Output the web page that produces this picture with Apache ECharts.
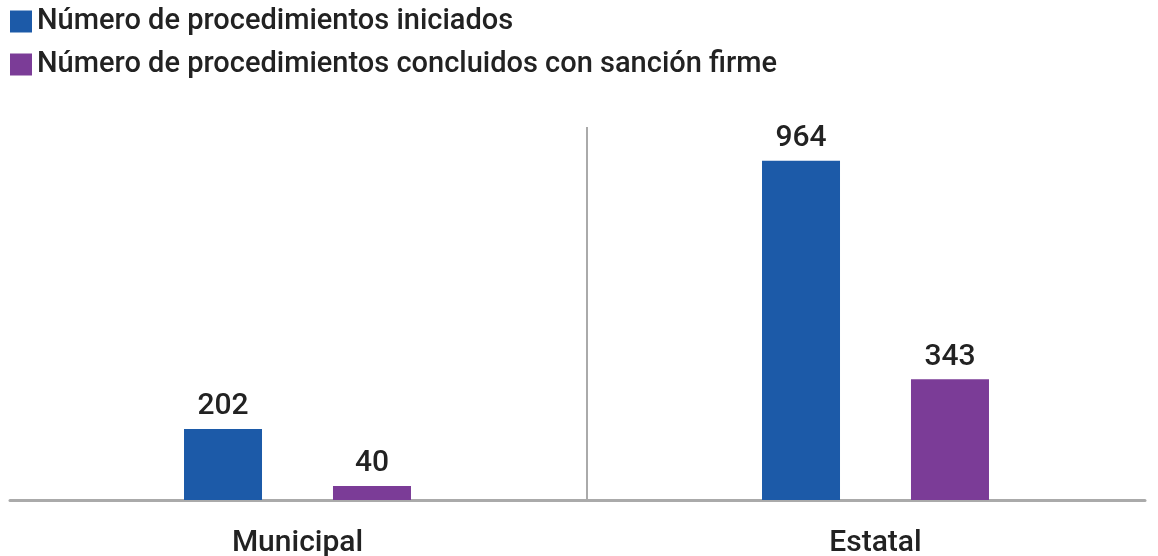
<!DOCTYPE html>
<html><head><meta charset="utf-8">
<script src="https://cdn.jsdelivr.net/npm/echarts@6/dist/echarts.min.js"></script>
<style>html,body{margin:0;padding:0;background:#fff}#c{width:1158px;height:556px}</style>
</head><body><div id="c"></div>
<script>
const categories = ['Municipal', 'Estatal'];
const seriesNames = ['Número de procedimientos iniciados', 'Número de procedimientos concluidos con sanción firme'];
const iniciados = [202, 964];
const concluidos = [40, 343];
const colors = ['#1c5aa8', '#7b3c97'];
const separatorAt = 1; // boundary between the two categories (on a 0..2 helper scale)

const chart = echarts.init(document.getElementById('c'));
const font = 'Roboto';
const labelStyle = {show: true, position: 'top', distance: 7, fontFamily: font, fontSize: 30, fontWeight: 500, color: '#222'};
chart.setOption({
  animation: false,
  legend: {
    orient: 'vertical', left: 10, top: 7, padding: 0, itemWidth: 22, itemHeight: 22, itemGap: 14,
    icon: 'rect',
    textStyle: {fontFamily: font, fontSize: 29, fontWeight: 500, color: '#222'},
    data: seriesNames
  },
  grid: [
    {left: 8.5, right: -6.5, top: 127, bottom: 56, outerBoundsMode: 'none', containLabel: false},
    {left: 10, right: 13, top: 127, bottom: 56, outerBoundsMode: 'none'}
  ],
  xAxis: [
    {type: 'category', gridIndex: 0, data: categories,
      axisLine: {show: false}, axisTick: {show: false},
      axisLabel: {fontFamily: font, fontSize: 30, fontWeight: 500, color: '#222', margin: 28},
      splitLine: {show: false}},
    {type: 'category', gridIndex: 1, data: [''],
      axisLine: {show: true, lineStyle: {color: '#aaaaaa', width: 3}},
      axisTick: {show: false}, axisLabel: {show: false}},
    {type: 'value', gridIndex: 0, min: 0, max: 2, show: false, splitLine: {show: false}}
  ],
  yAxis: [
    {type: 'value', gridIndex: 0, min: 0, max: 1060, show: false, splitLine: {show: false}},
    {type: 'value', gridIndex: 1, show: false}
  ],
  series: [
    {name: seriesNames[0], type: 'bar', data: iniciados, barWidth: 78, barGap: '91%',
      itemStyle: {color: colors[0]}, label: labelStyle},
    {name: seriesNames[1], type: 'bar', data: concluidos, barWidth: 78, barGap: '91%',
      itemStyle: {color: colors[1]}, label: labelStyle},
    {name: 'separator', type: 'scatter', xAxisIndex: 2, yAxisIndex: 0, data: [], silent: true,
      markLine: {symbol: ['none', 'none'], silent: true, label: {show: false},
        lineStyle: {color: '#aaaaaa', width: 2, type: 'solid'},
        data: [{xAxis: separatorAt}]}}
  ]
});
</script></body></html>
